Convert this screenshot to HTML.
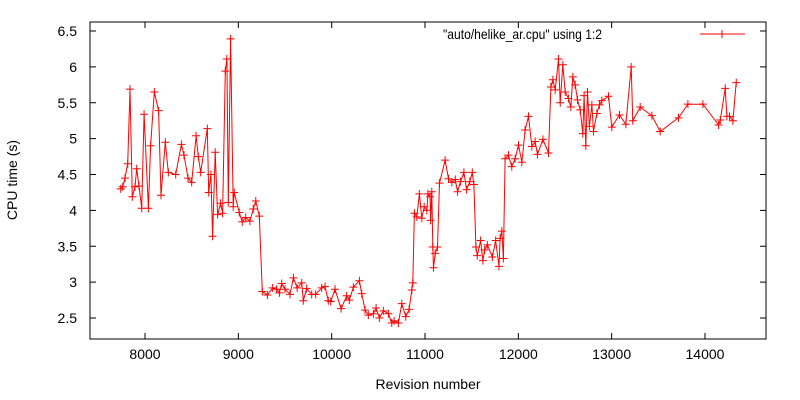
<!DOCTYPE html>
<html><head><meta charset="utf-8"><style>
body{margin:0;background:#fff;}
svg{display:block;font-family:"Liberation Sans",sans-serif;}
</style></head><body>
<svg id="chart" width="800" height="400" viewBox="0 0 800 400">
<rect x="0" y="0" width="800" height="400" fill="#fff"/>
<g id="ticks"></g>
<g id="series"></g>
<rect x="90" y="22" width="676" height="317" fill="none" stroke="#000" stroke-width="1"/>
<text x="17" y="180" font-size="14" text-anchor="middle" transform="rotate(-90 17 180)">CPU time (s)</text>
<text x="428" y="389" font-size="14" text-anchor="middle">Revision number</text>
<g>
<text x="602" y="39" font-size="14" text-anchor="end" textLength="159" lengthAdjust="spacingAndGlyphs">"auto/helike_ar.cpu" using 1:2</text>
<line x1="700" y1="34" x2="745" y2="34" stroke="#f00" stroke-width="1"/>
<path d="M718 34h8M722 30v8" stroke="#f00" stroke-width="1"/>
</g>
</svg>
<script>
const revisions=[7740,7761,7786,7815,7839,7864,7893,7911,7936,7965,7990,8036,8060,8100,8146,8171,8218,8250,8329,8390,8418,8461,8500,8547,8571,8597,8668,8683,8706,8724,8752,8778,8810,8831,8860,8877,8892,8917,8945,8956,9010,9042,9079,9124,9160,9187,9225,9257,9311,9368,9410,9440,9465,9500,9554,9590,9630,9679,9696,9732,9786,9829,9893,9929,9964,9990,10036,10101,10161,10189,10233,10297,10322,10358,10393,10447,10476,10511,10554,10608,10644,10669,10715,10751,10794,10830,10859,10869,10887,10912,10940,10966,10991,11020,11031,11055,11060,11073,11084,11091,11109,11134,11155,11216,11252,11288,11324,11349,11380,11417,11446,11480,11507,11524,11546,11560,11596,11621,11639,11668,11722,11757,11793,11805,11823,11840,11858,11894,11930,11966,12002,12038,12073,12109,12145,12180,12205,12263,12323,12349,12370,12395,12430,12449,12477,12502,12537,12563,12584,12609,12634,12663,12691,12705,12723,12741,12762,12788,12805,12841,12869,12895,12966,13002,13084,13152,13209,13227,13306,13431,13520,13716,13817,13978,14146,14164,14217,14235,14263,14299,14335];
const cpuTimes=[4.30,4.33,4.45,4.65,5.69,4.19,4.33,4.58,4.34,4.03,5.34,4.03,4.90,5.65,5.39,4.21,4.95,4.53,4.50,4.92,4.77,4.45,4.39,5.04,4.75,4.53,5.14,4.25,4.50,3.64,4.81,3.94,4.10,3.96,5.94,6.11,4.11,6.39,4.05,4.25,3.97,3.84,3.90,3.85,4.02,4.13,3.92,2.87,2.82,2.92,2.90,2.85,2.98,2.90,2.83,3.06,2.92,2.99,2.74,2.91,2.83,2.83,2.92,2.94,2.74,2.73,2.90,2.63,2.81,2.75,2.93,3.02,2.84,2.61,2.54,2.56,2.64,2.50,2.60,2.56,2.43,2.46,2.43,2.70,2.52,2.62,2.89,2.99,3.96,3.91,4.23,3.89,4.05,4.00,4.23,4.19,3.86,4.26,3.49,3.20,3.40,3.49,4.38,4.70,4.44,4.39,4.43,4.26,4.40,4.53,4.29,4.40,4.53,4.36,3.49,3.37,3.58,3.30,3.45,3.52,3.35,3.58,3.22,3.61,3.71,3.33,4.72,4.77,4.61,4.72,4.91,4.67,5.12,5.31,4.89,4.96,4.78,4.99,4.80,5.72,5.82,5.68,6.11,5.50,6.03,5.65,5.56,5.44,5.86,5.75,5.54,5.40,5.07,5.60,4.90,5.65,5.17,5.47,5.10,5.35,5.47,5.53,5.59,5.16,5.33,5.20,6.00,5.25,5.44,5.32,5.10,5.29,5.48,5.48,5.19,5.26,5.70,5.31,5.31,5.25,5.78];
const xTicks=[8000,9000,10000,11000,12000,13000,14000];
const yTicks=[2.5,3,3.5,4,4.5,5,5.5,6,6.5];
const yTickLabels=["2.5","3","3.5","4","4.5","5","5.5","6","6.5"];

const X0=90,X1=766,Y0=339,Y1=22;
const xScale=v=>145+(v-8000)*0.09333;
const yScale=v=>318-(v-2.5)*71.75;
const NS="http://www.w3.org/2000/svg";
const tg=document.getElementById('ticks');
function mk(tag,attrs,parent){const e=document.createElementNS(NS,tag);for(const k in attrs)e.setAttribute(k,attrs[k]);parent.appendChild(e);return e;}
xTicks.forEach(t=>{
  const x=xScale(t);
  const a=mk('path',{d:`M${x} ${Y0}v-6M${x} ${Y1}v6`,stroke:'#000','stroke-width':1},tg);
  
  
  const l=mk('text',{x:x,y:359,'font-size':14,'text-anchor':'middle'},tg);
  l.textContent=String(t);
  
  
});
yTicks.forEach((t,i)=>{
  const y=yScale(t);
  const a=mk('path',{d:`M${X0} ${y}h6M${X1} ${y}h-6`,stroke:'#000','stroke-width':1},tg);
  
  
  const l=mk('text',{x:77,y:y+5,'font-size':14,'text-anchor':'end'},tg);
  l.textContent=yTickLabels[i];
  
  
});
const sg=document.getElementById('series');
let d='';
revisions.forEach((r,i)=>{d+=(i?'L':'M')+xScale(r).toFixed(1)+' '+yScale(cpuTimes[i]).toFixed(1);});
const line=mk('path',{d:d,fill:'none',stroke:'#f00','stroke-width':1},sg);


revisions.forEach((r,i)=>{
  const x=xScale(r),y=yScale(cpuTimes[i]);
  const p=mk('path',{d:`M${x-4} ${y}h8M${x} ${y-4}v8`,stroke:'#f00','stroke-width':1},sg);
  
  
});
</script>
</body></html>
